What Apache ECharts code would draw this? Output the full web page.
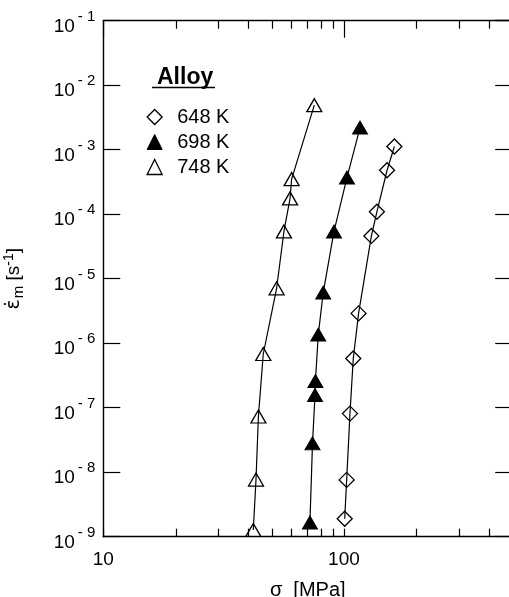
<!DOCTYPE html>
<html><head><meta charset="utf-8">
<script src="https://cdn.jsdelivr.net/npm/echarts@6/dist/echarts.min.js"></script>
<style>html,body{margin:0;padding:0;background:#fff}#c{width:509px;height:597px}</style>
</head><body><div id="c"></div>
<script>
// ---- data ----
const seriesNames = ['648 K', '698 K', '748 K'];
const stress648 = [162, 151, 137, 130, 115, 109.3, 105.9, 102.6, 100.7];
const rate648   = [1.12e-3, 4.8e-4, 1.09e-4, 4.6e-5, 2.9e-6, 5.8e-7, 8.1e-8, 7.6e-9, 1.9e-9];
const stress698 = [116.6, 102.9, 90.9, 82.0, 78.2, 76.1, 75.8, 74.0, 72.2];
const rate698   = [2.2e-3, 3.7e-4, 5.4e-5, 6.1e-6, 1.36e-6, 2.6e-7, 1.57e-7, 2.8e-8, 1.66e-9];
const stress748 = [75.3, 60.6, 59.7, 56.3, 52.5, 46.2, 44.1, 43.1, 42.0];
const rate748   = [4.9e-3, 3.5e-4, 1.76e-4, 5.4e-5, 7.1e-6, 6.8e-7, 7.3e-8, 7.7e-9, 1.27e-9];
const xRange = [10, 500];
const yRange = [1e-9, 1e-1];
const xMinorTicks = [20, 30, 40, 50, 60, 70, 80, 90, 200, 300, 400];
const legendTitle = 'Alloy';
const xAxisName = 'σ  [MPa]';

// ---- chart ----
const FONT = "'Liberation Sans', Arial, Helvetica, sans-serif";
const chart = echarts.init(document.getElementById('c'));
const pairs = (xs, ys) => xs.map((x, i) => [x, ys[i]]);
const openItem = { color: 'rgba(255,255,255,0)', borderColor: '#000', borderWidth: 1.3 };
const fillItem = { color: '#000', borderColor: '#000', borderWidth: 1 };
const lineSt = { color: '#000', width: 1.2 };

const yLabelRich = {
  b: { fontFamily: FONT, fontSize: 19, color: '#000', padding: [12, 3, 0, 0] },
  s: { fontFamily: FONT, fontSize: 15, color: '#000', padding: [0, 0, 8, 0] }
};
function yFmt(v) {
  const e = Math.round(Math.log10(v));
  return '{b|10}{s|- ' + Math.abs(e) + '}';
}
function xFmt(v) {
  const e = Math.log10(v);
  return Math.abs(e - Math.round(e)) < 1e-6 ? String(Math.round(v)) : '';
}

const axisLineSt = { lineStyle: { color: '#000', width: 1.4 } };

const option = {
  animation: false,
  backgroundColor: '#fff',
  grid: { left: 103.3, top: 20.7, right: -3.2, bottom: 60.3, containLabel: false, outerBoundsMode: 'none' },
  title: {
    text: legendTitle, left: 152, top: 61,
    textStyle: { fontFamily: FONT, fontSize: 23, fontWeight: 'bold', color: '#000' }
  },
  legend: {
    orient: 'vertical', left: 141.5, top: 102, itemWidth: 15, itemHeight: 15, itemGap: 5,
    textStyle: { fontFamily: FONT, fontSize: 20, color: '#000', padding: [0, 0, 0, 10] },
    data: [
      { name: seriesNames[0], icon: 'diamond', itemStyle: openItem },
      { name: seriesNames[1], icon: 'triangle', itemStyle: fillItem },
      { name: seriesNames[2], icon: 'triangle', itemStyle: openItem }
    ]
  },
  xAxis: [
    {
      type: 'log', logBase: 10, min: xRange[0], max: xRange[1], interval: 1, position: 'bottom',
      axisLine: axisLineSt,
      axisTick: { inside: true, length: 8, lineStyle: { color: '#000', width: 1.2 } },
      axisLabel: { formatter: xFmt, margin: 14, fontFamily: FONT, fontSize: 19, color: '#000', showMaxLabel: false },
      splitLine: { show: false },
      name: xAxisName, nameLocation: 'middle', nameGap: 44,
      nameTextStyle: { fontFamily: FONT, fontSize: 20, color: '#000' }
    },
    {
      type: 'log', logBase: 10, min: xRange[0], max: xRange[1], interval: 1, position: 'top',
      axisLine: axisLineSt,
      axisTick: { inside: true, length: 17, lineStyle: { color: '#000', width: 1.2 } },
      axisLabel: { show: false }, splitLine: { show: false }
    }
  ],
  yAxis: [
    {
      type: 'log', logBase: 10, min: yRange[0], max: yRange[1], interval: 1, position: 'left',
      axisLine: axisLineSt,
      axisTick: { inside: true, length: 17, lineStyle: { color: '#000', width: 1.2 } },
      axisLabel: { formatter: yFmt, rich: yLabelRich, margin: 8 },
      splitLine: { show: false },
      name: '{e|ε̇}{m|m}{t| [s}{p|-1}{t|]}',
      nameLocation: 'middle', nameRotate: 90, nameGap: 77,
      nameTextStyle: {
        rich: {
          e: { fontFamily: "'DejaVu Sans', sans-serif", fontSize: 19, color: '#000', padding: [0, 0, 0, 0] },
          m: { fontFamily: FONT, fontSize: 15, color: '#000', padding: [10, 0, 0, 1] },
          t: { fontFamily: FONT, fontSize: 19, color: '#000' },
          p: { fontFamily: FONT, fontSize: 14, color: '#000', padding: [0, 0, 10, 0] }
        }
      }
    },
    {
      type: 'log', logBase: 10, min: yRange[0], max: yRange[1], interval: 1, position: 'right',
      axisLine: axisLineSt,
      axisTick: { inside: true, length: 17, lineStyle: { color: '#000', width: 1.2 } },
      axisLabel: { show: false }, splitLine: { show: false }
    }
  ],
  series: [
    { name: seriesNames[0], type: 'line', data: pairs(stress648, rate648), symbol: 'diamond', symbolSize: 15,
      itemStyle: openItem, lineStyle: lineSt, z: 3 },
    { name: seriesNames[1], type: 'line', data: pairs(stress698, rate698), symbol: 'triangle', symbolSize: [15, 13],
      itemStyle: fillItem, lineStyle: lineSt, z: 3 },
    { name: seriesNames[2], type: 'line', data: pairs(stress748, rate748), symbol: 'triangle', symbolSize: [15, 13],
      itemStyle: openItem, lineStyle: lineSt, z: 3 }
  ]
};
chart.setOption(option);

// minor ticks on top and bottom x axes, placed through the axis scale
const yBot = chart.convertToPixel({ yAxisIndex: 0 }, yRange[0]);
const yTop = chart.convertToPixel({ yAxisIndex: 0 }, yRange[1]);
const g = [];
xMinorTicks.forEach(v => {
  const x = Math.round(chart.convertToPixel({ xAxisIndex: 0 }, v)) + 0.5;
  g.push({ type: 'line', shape: { x1: x, y1: yBot, x2: x, y2: yBot - 8 }, style: { stroke: '#000', lineWidth: 1.2 }, silent: true });
  g.push({ type: 'line', shape: { x1: x, y1: yTop, x2: x, y2: yTop + 8 }, style: { stroke: '#000', lineWidth: 1.2 }, silent: true });
});
// underline of the legend heading
const tEl = 152;
g.push({ type: 'line', shape: { x1: tEl, y1: 87.5, x2: tEl + 63, y2: 87.5 }, style: { stroke: '#000', lineWidth: 1.5 }, silent: true });
chart.setOption({ graphic: g });
</script>
</body></html>
